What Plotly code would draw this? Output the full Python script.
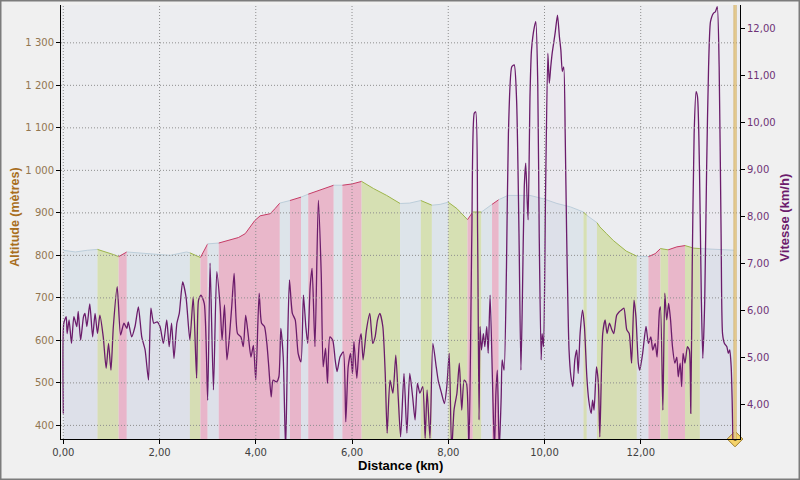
import plotly.graph_objects as go

# ---------------- data ----------------
dist_tick_vals = [0, 2, 4, 6, 8, 10, 12]
dist_tick_text = ["0,00", "2,00", "4,00", "6,00", "8,00", "10,00", "12,00"]
alt_tick_vals = [400, 500, 600, 700, 800, 900, 1000, 1100, 1200, 1300]
alt_tick_text = ["400", "500", "600", "700", "800", "900", "1 000", "1 100", "1 200", "1 300"]
speed_tick_vals = [4, 5, 6, 7, 8, 9, 10, 11, 12]
speed_tick_text = ["4,00", "5,00", "6,00", "7,00", "8,00", "9,00", "10,00", "11,00", "12,00"]

alt_km = [0.00, 0.25, 0.50, 0.71, 0.83, 1.04, 1.15, 1.32, 1.60, 1.94, 2.22, 2.56, 2.63, 2.85,
          3.00, 3.23, 3.43, 3.64, 3.78, 3.98, 4.09, 4.30, 4.40, 4.50, 4.71, 4.94, 5.09, 5.30,
          5.62, 5.80, 6.00, 6.20, 6.45, 6.72, 7.00, 7.20, 7.43, 7.66, 7.83, 8.00, 8.18, 8.40,
          8.51, 8.69, 8.80, 8.91, 9.05, 9.24, 9.70, 9.98, 10.26, 10.54, 10.81, 10.88, 11.09,
          11.15, 11.29, 11.43, 11.57, 11.70, 11.92, 12.16, 12.30, 12.41, 12.57, 12.75, 12.92,
          13.10, 13.23, 13.60, 13.96]
alt_m = [812, 808, 812, 814, 810, 802, 797, 808, 806, 802, 800, 808, 806, 795,
         827, 829, 835, 842, 851, 882, 893, 898, 910, 923, 929, 937, 944, 953,
         965, 965, 968, 974, 957, 941, 922, 923, 929, 918, 920, 925, 910, 884,
         902, 902, 910, 920, 931, 941, 941, 933, 922, 914, 902, 894, 877,
         867, 851, 835, 822, 810, 798, 797, 804, 816, 813, 820, 823,
         817, 816, 814, 812]

band_edges_km = [0.00, 0.71, 1.15, 1.32, 2.63, 2.85, 3.00, 3.23, 4.50, 4.71, 4.94, 5.09, 5.62,
                 5.80, 6.20, 7.00, 7.43, 7.66, 8.00, 8.40, 8.51, 8.69, 8.91, 9.05, 10.81,
                 10.88, 11.09, 11.92, 12.16, 12.41, 12.57, 12.92, 13.23, 13.96]
band_kind = ["flat", "down", "up", "flat", "down", "up", "flat", "up", "flat", "up", "flat",
             "up", "flat", "up", "down", "flat", "down", "flat", "down", "up", "down", "flat",
             "up", "flat", "down", "flat", "down", "flat", "up", "down", "up", "down", "flat"]

speed_km = [0.00, 0.01, 0.06, 0.08, 0.12, 0.17, 0.22, 0.28, 0.31, 0.36, 0.42, 0.45, 0.49, 0.55,
            0.61, 0.66, 0.71, 0.76, 0.83, 0.89, 0.94, 0.99, 1.04, 1.12, 1.19, 1.26, 1.32, 1.35,
            1.42, 1.49, 1.56, 1.63, 1.70, 1.77, 1.82, 1.88, 1.95, 2.01, 2.08, 2.15, 2.20, 2.25,
            2.30, 2.36, 2.41, 2.48, 2.55, 2.63, 2.70, 2.77, 2.81, 2.86, 2.93, 3.00, 3.05, 3.12,
            3.19, 3.26, 3.30, 3.35, 3.40, 3.44, 3.50, 3.55, 3.62, 3.69, 3.74, 3.79, 3.84, 3.90,
            3.95, 4.00, 4.07, 4.12, 4.18, 4.23, 4.27, 4.32, 4.36, 4.43, 4.48, 4.52, 4.57, 4.62,
            4.66, 4.70, 4.76, 4.82, 4.88, 4.94, 4.99, 5.04, 5.08, 5.13, 5.17, 5.23, 5.30, 5.36,
            5.40, 5.45, 5.49, 5.54, 5.60, 5.65, 5.69, 5.75, 5.82, 5.87, 5.92, 5.97, 6.01, 6.04,
            6.10, 6.15, 6.19, 6.23, 6.30, 6.37, 6.43, 6.48, 6.53, 6.58, 6.64, 6.69, 6.73, 6.79,
            6.85, 6.91, 6.96, 7.01, 7.08, 7.14, 7.20, 7.26, 7.31, 7.36, 7.41, 7.47, 7.52, 7.56,
            7.62, 7.68, 7.75, 7.79, 7.86, 7.92, 7.97, 8.02, 8.07, 8.12, 8.18, 8.23, 8.28, 8.33,
            8.38, 8.43, 8.49, 8.54, 8.57, 8.61, 8.64, 8.66, 8.69, 8.73, 8.76, 8.80, 8.83, 8.87,
            8.92, 8.96, 8.99, 9.02, 9.06, 9.10, 9.12, 9.16, 9.21, 9.25, 9.32, 9.37, 9.42, 9.47,
            9.51, 9.54, 9.58, 9.61, 9.64, 9.66, 9.70, 9.73, 9.79, 9.82, 9.86, 9.89, 9.93, 9.95,
            9.98, 10.02, 10.07, 10.10, 10.13, 10.16, 10.22, 10.27, 10.31, 10.34, 10.37, 10.40,
            10.43, 10.46, 10.51, 10.55, 10.59, 10.63, 10.67, 10.70, 10.74, 10.79, 10.83, 10.88,
            10.92, 10.97, 11.00, 11.03, 11.08, 11.12, 11.15, 11.21, 11.26, 11.30, 11.35, 11.40,
            11.44, 11.50, 11.55, 11.60, 11.65, 11.71, 11.76, 11.81, 11.86, 11.90, 11.95, 11.98,
            12.04, 12.11, 12.16, 12.21, 12.25, 12.30, 12.34, 12.39, 12.41, 12.46, 12.50, 12.54,
            12.58, 12.62, 12.66, 12.71, 12.75, 12.78, 12.82, 12.85, 12.88, 12.92, 12.97, 13.01,
            13.04, 13.07, 13.11, 13.15, 13.18, 13.22, 13.26, 13.29, 13.33, 13.37, 13.41, 13.45,
            13.51, 13.55, 13.59, 13.63, 13.67, 13.70, 13.74, 13.79, 13.82, 13.85, 13.88, 13.90,
            13.92]
speed_kmh = [3.80, 5.72, 5.86, 5.50, 5.79, 5.29, 5.86, 5.65, 5.97, 5.36, 5.86, 5.93, 5.65, 6.13,
             5.43, 5.93, 5.50, 5.89, 5.43, 4.76, 5.29, 4.72, 5.65, 6.50, 5.47, 5.72, 5.61, 5.75,
             5.43, 5.65, 6.07, 5.43, 5.15, 4.51, 6.04, 5.72, 5.75, 5.65, 5.29, 5.79, 5.22, 5.72,
             4.97, 5.72, 5.93, 6.60, 6.28, 5.36, 6.28, 4.55, 6.21, 6.32, 6.14, 4.08, 7.00, 4.30,
             6.82, 6.07, 5.36, 6.11, 4.94, 5.29, 6.07, 6.78, 5.50, 5.43, 5.22, 5.89, 5.50, 5.00,
             5.25, 4.51, 6.36, 5.72, 5.65, 5.29, 4.79, 4.15, 4.51, 4.47, 4.58, 5.61, 5.00, 3.00,
             5.22, 6.64, 5.93, 5.79, 5.08, 4.90, 6.32, 5.65, 5.29, 6.50, 6.89, 5.22, 8.34, 6.78,
             4.79, 5.19, 4.44, 5.43, 5.36, 4.94, 4.69, 5.00, 5.11, 3.62, 4.79, 5.08, 4.65, 5.33,
             4.55, 5.29, 5.50, 4.94, 5.58, 5.93, 5.29, 5.43, 5.79, 5.93, 5.65, 4.65, 3.38, 4.51,
             4.23, 5.04, 4.15, 3.30, 4.65, 3.38, 4.65, 4.15, 3.66, 4.44, 4.23, 4.37, 3.27, 4.30,
             3.27, 5.29, 4.79, 4.51, 4.23, 4.01, 4.37, 5.08, 3.00, 3.87, 4.23, 4.87, 3.87, 4.51,
             4.44, 3.00, 7.63, 10.19, 10.22, 7.63, 3.66, 5.65, 5.15, 5.50, 5.22, 5.65, 5.08, 6.32,
             4.44, 3.00, 4.23, 4.72, 3.00, 4.15, 4.94, 4.72, 6.92, 9.76, 11.18, 11.22, 10.47, 7.63,
             4.72, 6.21, 8.63, 9.13, 8.34, 7.92, 10.62, 11.54, 12.03, 12.14, 10.83, 7.63, 4.94, 5.50,
             5.22, 8.34, 11.47, 10.83, 11.18, 11.47, 11.89, 12.28, 11.82, 11.54, 11.08, 11.18,
             9.76, 7.63, 5.15, 4.58, 4.37, 4.94, 5.15, 4.65, 5.50, 6.00, 5.65, 4.58,
             4.08, 3.80, 4.08, 3.87, 4.79, 4.44, 3.30, 5.50, 5.79, 5.50, 5.72, 5.58,
             5.50, 5.89, 5.96, 6.00, 6.04, 5.58, 5.50, 4.87, 6.21, 5.86, 4.87, 4.72,
             5.08, 5.65, 5.29, 5.43, 5.15, 5.29, 5.00, 6.00, 6.07, 3.87, 6.36, 5.79,
             6.14, 5.79, 5.22, 4.87, 5.00, 4.58, 4.87, 4.37, 5.08, 4.87, 5.22, 5.15,
             3.80, 6.92, 9.76, 10.65, 10.54, 9.05, 6.21, 4.97, 6.21, 9.05, 11.18, 12.14,
             12.32, 12.35, 12.46, 11.18, 7.63, 5.50, 5.29, 5.22, 5.08, 5.15, 4.79, 4.08,
             3.00]

lap_km = [13.96]
lap_label = ["1"]

# ---------------- style ----------------
ALT_RANGE = [368, 1389]
SPEED_RANGE = [3.255, 12.496]
DIST_RANGE = [-0.048, 14.063]

band_fill = {"flat": "#DDE4EA", "down": "#D6E0B3", "up": "#E9B7CA"}
band_line = {"flat": "#BCCEDA", "down": "#9DB54A", "up": "#C63C66"}

FONT = "DejaVu Sans, Verdana, sans-serif"
TFONT = "Liberation Sans, Arial, sans-serif"

fig = go.Figure()

# altitude profile, coloured by slope category
for i, kind in enumerate(band_kind):
    a, b = band_edges_km[i], band_edges_km[i + 1]
    xs = [k for k in alt_km if a - 1e-9 <= k <= b + 1e-9]
    ys = [alt_m[j] for j, k in enumerate(alt_km) if a - 1e-9 <= k <= b + 1e-9]
    fig.add_trace(go.Scatter(
        x=xs, y=ys, mode="lines", fill="tozeroy",
        fillcolor=band_fill[kind],
        line=dict(color=band_line[kind], width=1),
        hoverinfo="skip", showlegend=False, yaxis="y"))

# speed
fig.add_trace(go.Scatter(
    x=speed_km, y=speed_kmh, mode="lines", yaxis="y2",
    line=dict(color="#6B1C6B", width=1.3, shape="spline", smoothing=0.6),
    fill="tozeroy", fillcolor="rgba(230,150,230,0.035)",
    showlegend=False, name="Vitesse"))

# lap marker
fig.add_trace(go.Scatter(
    x=lap_km, y=[ALT_RANGE[0]] * len(lap_km), mode="markers+text", yaxis="y",
    marker=dict(symbol="diamond", size=12, color="#F5D36A",
                line=dict(color="#9A7A2A", width=1)),
    text=lap_label, textposition="middle center",
    textfont=dict(size=7, color="#5A4410", family=FONT),
    cliponaxis=False, showlegend=False, hoverinfo="skip"))

shapes = []
# dotted grid drawn above the filled profile
for v in alt_tick_vals:
    shapes.append(dict(type="line", xref="paper", x0=0, x1=1, yref="y", y0=v, y1=v,
                       line=dict(color="#8E8E8E", width=1, dash="1px,2px"), layer="above"))
for v in dist_tick_vals:
    shapes.append(dict(type="line", xref="x", x0=v, x1=v, yref="paper", y0=0, y1=1,
                       line=dict(color="#8E8E8E", width=1, dash="1px,2px"), layer="above"))
# lap line
for v in lap_km:
    shapes.append(dict(type="line", xref="x", x0=v, x1=v, yref="paper", y0=0, y1=1,
                       line=dict(color="#CFAA5C", width=3), layer="above"))
    shapes.append(dict(type="line", xref="x", x0=v, x1=v, yref="paper", y0=0, y1=1,
                       line=dict(color="#F3E4BC", width=1), layer="above"))
# outer frame
shapes.append(dict(type="rect", xref="paper", yref="paper",
                   x0=-61 / 679, x1=739 / 679, y0=1 - 475 / 434, y1=1 + 5 / 434,
                   line=dict(color="#7C7C7C", width=3), fillcolor="rgba(0,0,0,0)",
                   layer="above"))

fig.update_layout(
    width=800, height=480,
    margin=dict(l=61, r=60, t=5, b=41),
    paper_bgcolor="#F0F0F0", plot_bgcolor="#ECEDF0",
    font=dict(family=FONT, size=10),
    shapes=shapes,
    xaxis=dict(range=DIST_RANGE, tickvals=dist_tick_vals, ticktext=dist_tick_text,
               showgrid=False, zeroline=False, showline=True, linecolor="#000000",
               linewidth=1, ticks="outside", ticklen=4, tickcolor="#000000",
               tickfont=dict(color="#404040", size=10, family=FONT)),
    yaxis=dict(range=ALT_RANGE, tickvals=alt_tick_vals, ticktext=alt_tick_text,
               showgrid=False, zeroline=False, showline=True, linecolor="#000000",
               linewidth=1, ticks="outside", ticklen=4, tickcolor="#000000",
               tickfont=dict(color="#927650", size=10, family=FONT)),
    yaxis2=dict(range=SPEED_RANGE, tickvals=speed_tick_vals, ticktext=speed_tick_text,
                overlaying="y", side="right", showgrid=False, zeroline=False,
                showline=True, linecolor="#000000", linewidth=1, ticks="outside",
                ticklen=4, tickcolor="#000000",
                tickfont=dict(color="#6E3276", size=10, family=FONT)),
    annotations=[
        dict(text="<b>Altitude (mètres)</b>", xref="paper", yref="paper",
             x=(15 - 61) / 679, y=0.51, textangle=-90, showarrow=False,
             xanchor="center", yanchor="middle",
             font=dict(family=TFONT, size=12.5, color="#A86E1E")),
        dict(text="<b>Vitesse (km/h)</b>", xref="paper", yref="paper",
             x=(785 - 61) / 679, y=0.51, textangle=-90, showarrow=False,
             xanchor="center", yanchor="middle",
             font=dict(family=TFONT, size=13, color="#6C1B6C")),
        dict(text="<b>Distance (km)</b>", xref="paper", yref="paper",
             x=(400 - 61) / 679, y=(439 - 465) / 434, showarrow=False,
             xanchor="center", yanchor="middle",
             font=dict(family=TFONT, size=13, color="#000000")),
    ],
)

fig.write_html("out.html", include_plotlyjs=True,
               config={"displayModeBar": False},
               post_script="document.body.style.margin='0';document.body.style.padding='0';")
